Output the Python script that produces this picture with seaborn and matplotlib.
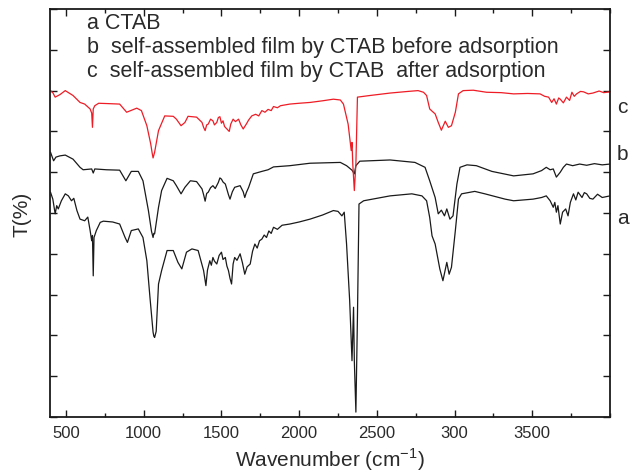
import matplotlib
matplotlib.use("Agg")
import matplotlib.pyplot as plt
import seaborn as sns
import pandas as pd
from matplotlib.ticker import MultipleLocator

# FTIR spectra: (wavenumber cm-1, T in arbitrary %)
curve_c = [(400, 80.0), (415, 79.5), (430, 78.4), (460, 79.0), (495, 80.0), (545, 78.8), (590, 77.1),
           (620, 76.7), (655, 75.5), (665, 74.5), (670, 71.0), (675, 75.5), (685, 76.3), (710, 76.9),
           (780, 76.8), (845, 76.7), (890, 74.7), (955, 75.7), (985, 75.1), (1020, 71.4), (1045, 66.9),
           (1055, 64.5), (1060, 63.5), (1065, 64.2), (1070, 64.9), (1095, 70.2), (1135, 73.8), (1190, 73.7),
           (1210, 73.0), (1240, 71.4), (1265, 72.2), (1285, 73.7), (1340, 73.5), (1375, 72.2), (1385, 71.0),
           (1395, 70.2), (1405, 71.6), (1415, 71.8), (1430, 73.0), (1445, 72.6), (1455, 71.6), (1470, 72.2),
           (1480, 73.4), (1490, 73.6), (1500, 72.0), (1510, 72.6), (1520, 71.2), (1535, 70.6), (1550, 70.0),
           (1560, 71.8), (1575, 73.0), (1590, 72.4), (1610, 73.0), (1625, 71.6), (1640, 70.6), (1650, 71.2),
           (1660, 71.8), (1675, 72.8), (1695, 73.8), (1720, 74.2), (1740, 73.8), (1760, 75.1), (1780, 74.7),
           (1800, 75.4), (1820, 75.1), (1835, 76.1), (1860, 75.8), (1880, 76.3), (1940, 76.7), (2000, 76.9),
           (2070, 77.1), (2150, 77.5), (2220, 77.9), (2265, 77.7), (2285, 76.7), (2315, 71.8), (2335, 65.3),
           (2340, 67.3), (2345, 62.0), (2355, 55.5), (2365, 62.0), (2375, 78.4), (2455, 78.8), (2585, 79.4),
           (2700, 79.8), (2765, 80.0), (2800, 79.6), (2820, 78.8), (2840, 75.5), (2860, 74.8), (2875, 74.3),
           (2895, 72.2), (2915, 70.3), (2940, 72.5), (2960, 71.0), (2980, 71.4), (3005, 74.7), (3025, 79.2),
           (3055, 80.0), (3120, 80.1), (3205, 79.6), (3300, 79.5), (3380, 79.2), (3470, 79.3), (3550, 79.2),
           (3580, 78.6), (3605, 78.4), (3625, 77.1), (3640, 78.0), (3655, 76.7), (3670, 78.2), (3680, 77.9),
           (3700, 77.0), (3720, 78.4), (3740, 77.6), (3755, 79.6), (3770, 78.6), (3785, 79.2), (3810, 79.8),
           (3830, 79.7), (3860, 79.2), (3890, 79.4), (3930, 79.9), (3960, 79.5), (4000, 79.7)]

curve_b = [(400, 64.9), (420, 62.8), (435, 63.7), (460, 64.0), (495, 64.2), (545, 63.2), (590, 61.2),
           (610, 60.6), (665, 60.8), (675, 59.8), (685, 60.8), (760, 60.6), (845, 60.5), (885, 57.9),
           (920, 60.2), (965, 60.2), (995, 57.9), (1030, 50.6), (1050, 45.5), (1060, 44.0), (1065, 45.0),
           (1070, 44.9), (1095, 51.4), (1115, 55.5), (1150, 58.5), (1190, 57.9), (1210, 56.7), (1240, 54.7),
           (1265, 56.3), (1300, 57.9), (1340, 57.7), (1375, 55.9), (1385, 54.5), (1395, 52.9), (1405, 54.8),
           (1415, 55.1), (1430, 56.2), (1445, 56.7), (1460, 56.0), (1480, 57.5), (1490, 58.6), (1500, 58.3),
           (1510, 57.6), (1525, 57.1), (1545, 54.5), (1555, 53.4), (1570, 55.2), (1585, 56.3), (1620, 56.7),
           (1640, 55.2), (1650, 53.8), (1660, 55.0), (1675, 56.3), (1705, 59.6), (1760, 60.2), (1800, 60.6),
           (1835, 61.3), (1940, 61.6), (2070, 62.2), (2265, 62.4), (2305, 61.6), (2340, 60.5), (2355, 59.6),
           (2365, 61.6), (2390, 62.7), (2585, 63.0), (2745, 62.4), (2810, 61.2), (2840, 57.9), (2875, 53.8),
           (2895, 49.8), (2915, 50.7), (2935, 49.3), (2950, 51.0), (2970, 48.5), (2990, 49.3), (3015, 57.1),
           (3035, 61.2), (3080, 61.8), (3140, 61.6), (3240, 60.2), (3380, 59.1), (3505, 59.6), (3560, 60.4),
           (3590, 61.2), (3615, 60.6), (3635, 60.8), (3655, 58.8), (3680, 60.0), (3700, 61.2), (3720, 62.0),
           (3760, 61.6), (3805, 62.0), (3850, 61.7), (3900, 62.1), (3950, 61.8), (4000, 62.0)]

curve_a = [(400, 55.1), (415, 53.4), (430, 49.8), (440, 51.8), (450, 51.0), (470, 53.0), (495, 54.7),
           (515, 54.2), (535, 53.0), (550, 53.6), (570, 50.6), (590, 48.5), (620, 48.1), (640, 49.0),
           (655, 45.7), (665, 43.2), (670, 44.5), (675, 34.6), (680, 44.0), (695, 45.7), (720, 47.7),
           (740, 48.0), (800, 47.8), (845, 47.3), (880, 44.0), (895, 42.8), (920, 45.7), (965, 46.1),
           (995, 44.0), (1020, 38.3), (1040, 29.3), (1060, 20.8), (1065, 19.8), (1070, 19.5), (1080, 21.0),
           (1095, 32.6), (1115, 35.9), (1150, 40.8), (1190, 40.8), (1220, 37.9), (1245, 36.3), (1275, 40.4),
           (1310, 41.2), (1350, 40.8), (1385, 35.9), (1400, 32.2), (1410, 36.0), (1425, 38.3), (1435, 37.2),
           (1445, 39.1), (1455, 38.2), (1470, 37.5), (1485, 39.6), (1500, 40.4), (1510, 38.6), (1525, 39.1),
           (1535, 37.0), (1545, 35.9), (1555, 34.0), (1565, 32.6), (1575, 37.5), (1585, 39.1), (1600, 38.4),
           (1620, 40.0), (1635, 37.8), (1650, 35.0), (1665, 36.8), (1685, 37.5), (1700, 40.6), (1715, 42.4),
           (1730, 41.4), (1745, 43.2), (1760, 43.6), (1775, 44.6), (1790, 44.0), (1805, 45.6), (1820, 45.0),
           (1835, 46.5), (1860, 46.0), (1890, 47.0), (1940, 47.3), (2000, 47.8), (2070, 48.5), (2150, 49.5),
           (2220, 50.6), (2250, 50.4), (2275, 49.3), (2290, 50.2), (2305, 42.4), (2325, 28.5), (2340, 13.8),
           (2350, 26.9), (2355, 13.8), (2365, 1.2), (2375, 24.4), (2385, 52.2), (2415, 53.0), (2585, 54.2),
           (2725, 54.7), (2790, 54.2), (2820, 53.0), (2840, 48.9), (2855, 44.4), (2875, 42.4), (2895, 38.3),
           (2905, 36.3), (2925, 33.4), (2950, 37.9), (2965, 35.0), (2980, 36.7), (3005, 45.7), (3025, 53.4),
           (3045, 54.7), (3130, 55.3), (3195, 54.7), (3325, 53.4), (3380, 53.0), (3505, 53.4), (3560, 53.8),
           (3590, 54.2), (3615, 53.0), (3635, 51.4), (3645, 52.6), (3655, 50.2), (3665, 51.8), (3680, 47.3),
           (3695, 50.2), (3715, 51.0), (3730, 49.3), (3745, 52.6), (3765, 54.7), (3780, 53.2), (3795, 55.1),
           (3820, 53.8), (3835, 55.0), (3850, 54.7), (3870, 53.6), (3890, 53.4), (3920, 54.6), (3950, 53.8),
           (4000, 54.2)]

x_major = [500, 1000, 1500, 2000, 2500, 3000, 3500]
x_labels = ["500", "1000", "1500", "2000", "2500", "300", "3500"]
legend_lines = ["a CTAB",
                "b  self-assembled film by CTAB before adsorption",
                "c  self-assembled film by CTAB  after adsorption"]

sns.set_theme(style="ticks")
plt.rcParams["font.family"] = ["Liberation Sans", "DejaVu Sans"]
plt.rcParams["mathtext.fontset"] = "custom"
plt.rcParams["mathtext.rm"] = "Liberation Sans"

frames = []
for name, pts in [("a", curve_a), ("b", curve_b), ("c", curve_c)]:
    d = pd.DataFrame(pts, columns=["wn", "T"])
    d["curve"] = name
    frames.append(d)
df = pd.concat(frames, ignore_index=True)

fig = plt.figure(figsize=(6.36, 4.77), dpi=100)
ax = fig.add_axes([0.0794, 0.1237, 0.8797, 0.8553])

sns.lineplot(data=df, x="wn", y="T", hue="curve", estimator=None, sort=False,
             palette={"a": "#1a1a1a", "b": "#1a1a1a", "c": "#ee1c25"},
             linewidth=0.9, legend=False, ax=ax)

ax.set_xlim(400, 4000)
ax.set_ylim(0, 100)
ax.set_xticks(x_major)
ax.set_xticklabels(x_labels)
ax.xaxis.set_minor_locator(MultipleLocator(250))
ax.yaxis.set_major_locator(MultipleLocator(10))
ax.set_yticklabels([])
ax.tick_params(which="both", direction="in", top=True, right=True, width=1.0, color="#1a1a1a")
ax.tick_params(which="major", length=5, labelsize=12, labelcolor="#2a2a2a", pad=6)
ax.tick_params(which="minor", length=3)
for s in ax.spines.values():
    s.set_linewidth(1.3)
    s.set_color("#1a1a1a")

ax.set_xlabel("Wavenumber (cm$^{\\mathregular{-1}}$)", fontsize=15, color="#2a2a2a", labelpad=4)
ax.set_ylabel("T(%)", fontsize=15, color="#2a2a2a", labelpad=8)

for i, line in enumerate(legend_lines):
    ax.text(0.066, 0.966 - i * 0.058, line, transform=ax.transAxes, fontsize=15.5,
            color="#2a2a2a", va="center", ha="left")

for lab, yy in [("c", 0.762), ("b", 0.645), ("a", 0.490)]:
    ax.text(1.012, yy, lab, transform=ax.transAxes, fontsize=15, color="#2a2a2a",
            va="center", ha="left")

fig.savefig("out.png", dpi=100)
